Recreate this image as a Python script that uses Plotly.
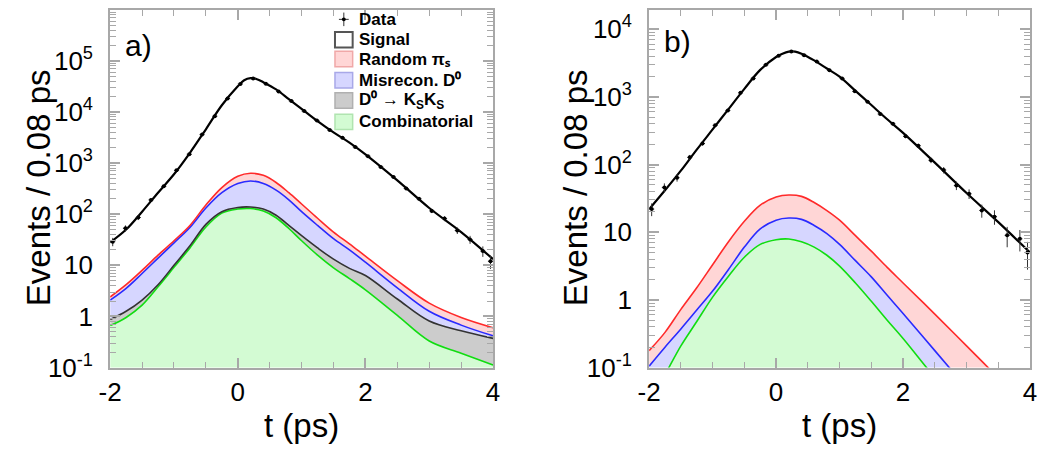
import plotly.graph_objects as go

# ---------------- data ----------------
t_sig = [-2, -1.75, -1.5, -1.25, -1, -0.75, -0.5, -0.25, 0, 0.1, 0.2, 0.3, 0.4, 0.6, 0.8, 1,
         1.25, 1.5, 1.75, 2, 2.5, 3, 3.5, 4]
t_bkg = [-2, -1.75, -1.5, -1.25, -1, -0.75, -0.5, -0.25, 0, 0.2, 0.4, 0.6, 0.8, 1,
         1.25, 1.5, 1.75, 2, 2.5, 3, 3.5, 4]
t_data = [-1.96, -1.76, -1.56, -1.36, -1.16, -0.96, -0.76, -0.56, -0.36, -0.16, 0.04, 0.24,
          0.44, 0.64, 0.84, 1.04, 1.24, 1.44, 1.64, 1.84, 2.04, 2.24, 2.44, 2.64, 2.84, 3.04,
          3.24, 3.44, 3.64, 3.84, 3.96]

# panel a) -- signal fit and stacked background components (cumulative tops)
a_signal = [28, 50, 112, 263, 603, 1585, 4571, 13490, 31620, 41690, 45710, 43650, 38020,
            27540, 17780, 11480, 6607, 3981, 2512, 1479, 457, 132, 44.7, 13.2]
a_random = [2.4, 4.17, 7.94, 15.8, 30.2, 60.3, 151, 331, 550, 631, 575, 417, 263, 158,
            83.2, 44.7, 26.3, 15.1, 5.01, 1.82, 0.955, 0.603]
a_misrec = [2.09, 3.55, 6.92, 13.8, 27.5, 55.0, 132, 263, 398, 447, 398, 295, 191, 112,
            60.3, 33.1, 20.0, 11.5, 3.63, 1.26, 0.676, 0.417]
a_ksks = [0.871, 1.26, 2.09, 4.17, 10.0, 24.0, 63.1, 112, 135, 138, 126, 95.5, 60.3, 38.0,
          21.9, 13.2, 8.71, 6.31, 2.19, 0.813, 0.525, 0.372]
a_comb = [0.661, 0.955, 1.66, 3.80, 9.12, 21.9, 56.2, 105, 126, 129, 115, 85.1, 52.5, 30.2,
          15.8, 8.91, 5.50, 3.31, 1.05, 0.331, 0.191, 0.112]
a_data = [29, 53, 86, 190, 350, 720, 1490, 3600, 8250, 18300, 35300, 44800, 35600, 25000,
          16300, 10400, 6800, 4420, 3120, 2070, 1360, 840, 532, 318, 200, 116, 82, 48, 32,
          19, 12]
a_err = [5.4, 7.3, 9.3, 14, 19, 27, 39, 60, 91, 135, 188, 212, 189, 158, 128, 102, 82, 66,
         56, 45, 37, 29, 23, 18, 14, 11, 9, 7, 5.7, 4.4, 3.5]

# panel b)
b_signal = [21.9, 41.7, 81.3, 166, 331, 661, 1318, 2512, 3890, 4365, 4677, 4677, 4365, 3467,
            2630, 1995, 1230, 759, 468, 295, 107, 38.0, 14.1, 5.01]
b_random = [0.178, 0.331, 0.724, 1.51, 3.31, 7.24, 14.5, 25.1, 33.1, 35.5, 33.9, 27.5, 20.9,
            15.1, 8.91, 5.25, 3.02, 1.78, 0.617, 0.209, 0.0708, 0.0251]
b_misrec = [0.105, 0.200, 0.372, 0.708, 1.35, 2.82, 6.03, 11.2, 15.1, 16.2, 15.5, 12.6, 9.55,
            6.61, 3.80, 2.19, 1.17, 0.631, 0.178, 0.0501, 0.0141, 0.00398]
b_comb = [0.0355, 0.0794, 0.209, 0.479, 1.10, 2.24, 4.27, 6.61, 7.76, 7.94, 7.24, 6.03, 4.57,
          3.16, 1.78, 0.955, 0.501, 0.269, 0.0708, 0.0200, 0.00562, 0.00158]
b_data = [22, 46, 64, 128, 205, 380, 632, 1150, 1880, 2990, 4050, 4700, 4150, 3340, 2480,
          1880, 1210, 850, 560, 400, 262, 190, 116, 83, 49, 37, 21, 17, 9, 8, 5]
b_err = [4.7, 6.8, 8, 11, 14, 19, 25, 34, 43, 55, 64, 69, 64, 58, 50, 43, 35, 29, 24, 20, 16,
         14, 11, 9, 7, 6, 4.6, 4.1, 3, 2.8, 2.2]
floor = [1e-4] * len(t_bkg)

a_yticks = [0.1, 1, 10, 100, 1e3, 1e4, 1e5]
a_ylabels = ["10<sup>-1</sup>", "1", "10", "10<sup>2</sup>", "10<sup>3</sup>",
             "10<sup>4</sup>", "10<sup>5</sup>"]
b_yticks = [0.1, 1, 10, 100, 1e3, 1e4]
b_ylabels = ["10<sup>-1</sup>", "1", "10", "10<sup>2</sup>", "10<sup>3</sup>",
             "10<sup>4</sup>"]
x_ticks = [-2, 0, 2, 4]
legend_names = ["Data", "Signal", "Random πₛ", "Misrecon. D⁰",
                "D⁰ → K<sub>S</sub>K<sub>S</sub>", "Combinatorial"]

# ---------------- style ----------------
FONT = "Liberation Sans, Arial, Helvetica, sans-serif"
W, H = 1039, 458
RED_L, RED_F = "#ff2a2a", "#ffd6d6"
BLU_L, BLU_F = "#2a2aff", "#d6d6ff"
GRY_L, GRY_F = "#333333", "#cccccc"
GRN_L, GRN_F = "#11dd11", "#d3fbd3"
AX = "#a8a8a8"

fig = go.Figure()


def stack(xa, ya, t, layers):
    fig.add_trace(go.Scatter(x=t, y=floor, xaxis=xa, yaxis=ya, mode="lines",
                             line=dict(width=0), showlegend=False, hoverinfo="skip"))
    for name, vals, lc, fc in layers:
        fig.add_trace(go.Scatter(x=t, y=vals, xaxis=xa, yaxis=ya, mode="lines",
                                 line=dict(color=lc, width=1.6, shape="spline"),
                                 fill="tonexty", fillcolor=fc, name=name,
                                 showlegend=False))


stack("x", "y", t_bkg, [
    (legend_names[5], a_comb, GRN_L, GRN_F),
    (legend_names[4], a_ksks, GRY_L, GRY_F),
    (legend_names[3], a_misrec, BLU_L, BLU_F),
    (legend_names[2], a_random, RED_L, RED_F),
])
stack("x2", "y2", t_bkg, [
    (legend_names[5], b_comb, GRN_L, GRN_F),
    (legend_names[3], b_misrec, BLU_L, BLU_F),
    (legend_names[2], b_random, RED_L, RED_F),
])

for xa, ya, sig, dat, err in [("x", "y", a_signal, a_data, a_err),
                              ("x2", "y2", b_signal, b_data, b_err)]:
    fig.add_trace(go.Scatter(x=t_sig, y=sig, xaxis=xa, yaxis=ya, mode="lines",
                             line=dict(color="black", width=2.2, shape="spline"),
                             name="Signal", showlegend=False))
    fig.add_trace(go.Scatter(x=t_data, y=dat, xaxis=xa, yaxis=ya, mode="markers",
                             marker=dict(color="black", size=4),
                             error_y=dict(type="data", array=err, color="#333333",
                                          thickness=1, width=0),
                             error_x=dict(type="constant", value=0.04, color="#333333",
                                          thickness=1, width=0),
                             name="Data", showlegend=False))


def minor_log(lo, hi):
    out = []
    for e in range(lo, hi + 1):
        for k in range(2, 10):
            out.append(k * 10 ** e)
    return out


xa_common = dict(range=[-2, 4], showline=True, linecolor=AX, linewidth=2, mirror="ticks",
                 ticks="inside", ticklen=10, tickwidth=1.5, tickcolor=AX,
                 tickvals=x_ticks, ticktext=[str(v) for v in x_ticks],
                 tickfont=dict(size=26, color="black", family=FONT),
                 minor=dict(dtick=0.5, ticks="inside", ticklen=6, tickcolor=AX, tickwidth=1),
                 showgrid=False, zeroline=False)
ya_common = dict(type="log", showline=True, linecolor=AX, linewidth=2, mirror="ticks",
                 ticks="inside", ticklen=10, tickwidth=1.5, tickcolor=AX,
                 tickfont=dict(size=26, color="black", family=FONT),
                 ticklabelstandoff=10,
                 showgrid=False, zeroline=False)

y0, y1 = 1 - 380 / H, 1 - 10 / H
fig.update_layout(
    width=W, height=H, margin=dict(l=0, r=0, t=0, b=0),
    paper_bgcolor="white", plot_bgcolor="white",
    font=dict(family=FONT, color="black"),
    xaxis=dict(domain=[100 / W, 490 / W], anchor="y", **xa_common),
    yaxis=dict(domain=[y0, y1], anchor="x", range=[-1, 6], tickvals=a_yticks,
               ticktext=a_ylabels,
               minor=dict(tickvals=minor_log(-1, 5), ticks="inside", ticklen=6,
                          tickcolor=AX, tickwidth=1),
               **ya_common),
    xaxis2=dict(domain=[649 / W, 1037 / W], anchor="y2", **xa_common),
    yaxis2=dict(domain=[y0, y1], anchor="x2", range=[-1, 4.29], tickvals=b_yticks,
                ticktext=b_ylabels,
                minor=dict(tickvals=minor_log(-1, 4), ticks="inside", ticklen=6,
                           tickcolor=AX, tickwidth=1),
                **ya_common),
    showlegend=False,
)


def px(x):
    return x / W


def py(y):
    return 1 - y / H


ann = [
    dict(text="a)", x=px(113), y=py(47), xanchor="left", yanchor="middle",
         font=dict(size=30)),
    dict(text="b)", x=px(662), y=py(43), xanchor="left", yanchor="middle",
         font=dict(size=30)),
    dict(text="Events / 0.08 ps", x=px(27), y=py(194), textangle=-90,
         xanchor="center", yanchor="middle", font=dict(size=33)),
    dict(text="Events / 0.08 ps", x=px(574), y=py(194), textangle=-90,
         xanchor="center", yanchor="middle", font=dict(size=33)),
    dict(text="t (ps)", x=px(295), y=py(440), xanchor="center", yanchor="middle",
         font=dict(size=33)),
    dict(text="t (ps)", x=px(843), y=py(440), xanchor="center", yanchor="middle",
         font=dict(size=33)),
]

# ---- hand-built legend (panel a) ----
shapes = []
leg_rows = [20, 41, 61, 83, 104, 126]
box_styles = [None,
              ("white", "#555555", 2),
              (RED_F, "#f0a8a8", 1.5),
              (BLU_F, "#a8a8e8", 1.5),
              (GRY_F, "#b0b0b0", 1.5),
              (GRN_F, "#b0e4b0", 1.5)]
for name, yc, st in zip(legend_names, leg_rows, box_styles):
    ann.append(dict(text="<b>" + name + "</b>", x=px(351), y=py(yc), xanchor="left",
                    yanchor="middle", font=dict(size=17)))
    if st is None:
        shapes.append(dict(type="line", x0=px(338), x1=px(338), y0=py(yc - 7),
                           y1=py(yc + 7), line=dict(color="#333333", width=1)))
        shapes.append(dict(type="line", x0=px(333), x1=px(343), y0=py(yc), y1=py(yc),
                           line=dict(color="#333333", width=1)))
        shapes.append(dict(type="circle", x0=px(336), x1=px(340), y0=py(yc - 2),
                           y1=py(yc + 2), fillcolor="black", line=dict(width=0)))
    else:
        fc, lc, lw = st
        shapes.append(dict(type="rect", x0=px(329), x1=px(347), y0=py(yc - 8),
                           y1=py(yc + 8), fillcolor=fc, line=dict(color=lc, width=lw)))
for s in shapes:
    s.update(xref="paper", yref="paper")

for a in ann:
    a.update(xref="paper", yref="paper", showarrow=False)
    a["font"].update(family=FONT, color="black")
fig.update_layout(annotations=ann, shapes=shapes)

fig.write_html("out.html")
